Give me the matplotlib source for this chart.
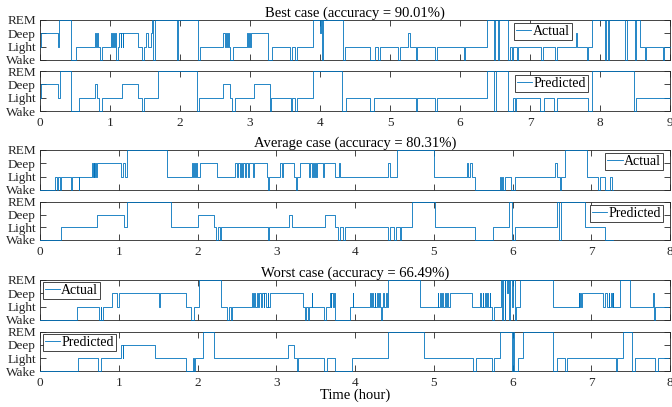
import matplotlib
matplotlib.use("Agg")
import matplotlib.pyplot as plt

plt.rcParams['font.family'] = 'serif'
plt.rcParams['font.serif'] = ['Liberation Serif', 'DejaVu Serif']
plt.rcParams['axes.linewidth'] = 0.6
plt.rcParams['axes.edgecolor'] = '#262626'

stage_names = ["Wake", "Light", "Deep", "REM"]
W, L, D, R = 0, 1, 2, 3

# ---- best case (hours, stage at that time) ----
best_act_t = [0.00, 0.01, 0.26, 0.27, 0.44, 0.52, 0.78, 0.80, 0.81, 0.83, 0.85, 0.88,
              1.01, 1.03, 1.04, 1.06, 1.07, 1.09, 1.11, 1.13, 1.15, 1.16, 1.18, 1.19,
              1.40, 1.45, 1.48, 1.52, 1.54, 1.59, 1.60, 1.62, 1.64, 1.95, 1.97, 2.25,
              2.28, 2.62, 2.64, 2.65, 2.67, 2.68, 2.70, 2.72, 2.76, 2.95, 2.97, 2.98,
              3.00, 3.02, 3.26, 3.31, 3.57, 3.60, 3.64, 3.67, 3.90, 4.00, 4.01, 4.03,
              4.04, 4.33, 4.36, 4.71, 4.78, 4.83, 4.86, 5.12, 5.14, 5.26, 5.28, 5.37,
              5.39, 5.64, 5.67, 6.05, 6.07, 6.39, 6.48, 6.50, 6.54, 6.55, 6.69, 6.72,
              6.74, 6.76, 6.81, 6.83, 7.15, 7.19, 7.36, 7.38, 7.65, 7.67, 7.81, 7.83,
              7.88, 8.07, 8.09, 8.11, 8.13, 8.36, 8.38, 8.50, 8.51, 8.57, 8.64, 8.66,
              8.90, 8.92]
best_act_s = [L, D, L, R, W, L, D, L, D, L, W, L,
              D, L, D, L, D, W, L, D, L, D, L, D,
              L, W, L, D, L, D, R, W, R, W, R, W,
              L, D, L, D, L, D, L, W, L, D, L, D,
              L, D, W, L, W, L, W, L, R, D, R, W,
              R, W, L, W, L, W, L, W, L, D, L, W,
              L, W, L, W, L, R, W, R, W, R, W, L,
              W, L, W, L, W, L, W, L, D, L, W, L,
              R, W, R, W, R, W, R, W, R, L, W, L,
              W, L]
best_pred_t = [0.00, 0.01, 0.26, 0.28, 0.44, 0.56, 0.79, 0.82, 0.84, 0.88, 1.17, 1.40,
               1.45, 1.48, 1.69, 2.24, 2.27, 2.62, 2.71, 2.74, 2.78, 3.05, 3.28, 3.30,
               3.58, 3.60, 3.64, 3.67, 3.90, 4.32, 4.37, 4.71, 4.77, 5.37, 5.39, 5.64,
               5.67, 6.39, 6.48, 6.51, 6.69, 6.76, 6.78, 6.80, 7.14, 7.20, 7.34, 7.38,
               7.83, 7.88, 8.48, 8.51]
best_pred_s = [L, D, L, R, W, L, D, L, W, L, D, L,
               W, L, R, W, L, D, L, W, L, D, W, L,
               W, L, W, L, R, W, L, W, L, W, L, W,
               L, R, W, R, W, L, W, L, W, L, W, L,
               W, R, W, L]

# ---- average case ----
avg_act_t = [0.00, 0.19, 0.21, 0.23, 0.26, 0.27, 0.39, 0.41, 0.49, 0.50, 0.66, 0.67,
             0.68, 0.69, 0.70, 0.71, 0.72, 1.03, 1.05, 1.08, 1.10, 1.61, 1.93, 1.94,
             1.96, 1.97, 1.98, 1.99, 2.03, 2.25, 2.48, 2.50, 2.52, 2.54, 2.55, 2.57,
             2.58, 2.60, 2.61, 2.64, 2.66, 2.70, 2.72, 2.88, 2.90, 2.91, 3.05, 3.07,
             3.08, 3.22, 3.25, 3.26, 3.30, 3.41, 3.43, 3.45, 3.47, 3.48, 3.49, 3.51,
             3.52, 3.59, 3.60, 3.75, 3.80, 3.81, 4.42, 4.45, 4.53, 5.00, 5.42, 5.44,
             5.46, 5.48, 5.53, 5.84, 5.85, 5.87, 5.88, 5.90, 5.98, 6.03, 6.54, 6.56,
             6.60, 6.62, 6.67, 6.95, 7.09, 7.11, 7.17, 7.24, 7.26]
avg_act_s = [W, L, W, L, W, L, W, L, W, L, D, L,
             D, L, D, L, D, L, D, L, R, L, D, L,
             D, L, D, L, D, L, D, L, D, L, D, L,
             D, L, D, L, D, L, D, L, W, L, D, L,
             D, L, W, L, D, L, D, L, D, L, D, L,
             D, L, D, L, D, L, D, L, R, L, D, L,
             D, L, W, L, W, L, W, L, W, L, D, L,
             W, L, R, L, W, L, W, L, W]
avg_pred_t = [0.00, 0.27, 0.73, 1.07, 1.10, 1.66, 2.00, 2.21, 2.24, 2.26, 2.29, 2.30,
              2.90, 2.91, 3.16, 3.20, 3.62, 3.75, 3.79, 3.81, 3.85, 3.87, 4.42, 4.44,
              4.50, 4.52, 4.57, 4.59, 4.72, 5.02, 5.53, 5.75, 5.95, 5.99, 6.03, 6.57,
              6.59, 6.61, 6.92, 7.17]
avg_pred_s = [W, L, D, L, R, L, D, L, W, L, W, L,
              W, L, D, L, D, L, W, L, W, L, W, L,
              W, L, W, L, R, L, W, L, R, W, L, R,
              W, R, L, W]

# ---- worst case ----
worst_act_t = [0.00, 0.47, 0.75, 0.77, 0.78, 0.80, 0.92, 0.98, 1.00, 1.51, 1.53, 1.86,
               1.92, 1.96, 2.02, 2.30, 2.38, 2.40, 2.42, 2.44, 2.69, 2.70, 2.72, 2.73,
               2.75, 2.77, 2.78, 2.80, 2.82, 2.84, 2.85, 2.87, 2.89, 2.90, 2.92, 3.34,
               3.36, 3.38, 3.40, 3.41, 3.45, 3.46, 3.60, 3.63, 3.68, 3.69, 3.70, 3.72,
               3.73, 3.74, 3.75, 3.94, 3.97, 3.98, 4.19, 4.20, 4.22, 4.23, 4.25, 4.26,
               4.28, 4.29, 4.31, 4.32, 4.33, 4.34, 4.36, 4.37, 4.39, 4.40, 4.42, 4.83,
               5.05, 5.06, 5.08, 5.09, 5.11, 5.12, 5.14, 5.15, 5.17, 5.18, 5.21, 5.49,
               5.59, 5.60, 5.62, 5.63, 5.65, 5.66, 5.68, 5.69, 5.71, 5.72, 5.74, 5.76,
               5.85, 5.87, 5.88, 5.90, 5.91, 5.93, 5.94, 5.95, 5.97, 5.99, 6.01, 6.03,
               6.04, 6.10, 6.51, 6.84, 6.85, 6.86, 6.87, 6.88, 7.15, 7.17, 7.20, 7.22,
               7.23, 7.25, 7.26, 7.27, 7.28, 7.37, 7.49, 7.79, 7.80, 7.81]
worst_act_s = [W, L, W, L, W, L, D, L, D, L, D, L,
               W, L, R, L, W, L, W, L, D, L, D, L,
               D, L, D, L, D, L, D, L, D, L, D, L,
               W, L, W, L, D, L, W, L, D, L, D, L,
               D, L, W, L, D, L, D, L, D, L, D, L,
               D, L, D, L, W, L, D, L, D, L, R, L,
               D, L, D, L, D, L, D, L, D, L, D, L,
               D, L, D, L, D, L, D, L, D, L, W, L,
               R, W, R, W, R, D, R, W, R, L, R, W,
               L, R, L, D, L, D, L, D, L, D, L, D,
               L, D, L, D, L, R, L, D, W, L]
worst_pred_t = [0.00, 0.48, 0.74, 0.78, 1.03, 1.05, 1.06, 1.46, 1.86, 1.94, 1.95, 1.97,
                2.07, 2.21, 3.15, 3.22, 3.26, 3.27, 3.60, 3.64, 3.75, 3.96, 4.42, 4.88,
                5.50, 5.54, 5.74, 5.76, 5.84, 5.99, 6.01, 6.02, 6.07, 6.13, 6.51, 6.56,
                6.67, 6.69, 7.31, 7.33, 7.40, 7.52, 7.55, 7.81, 7.85]
worst_pred_s = [W, L, W, L, D, L, D, L, W, L, W, L,
                R, L, D, L, W, L, W, L, W, L, R, L,
                W, L, W, L, R, W, R, W, L, R, W, L,
                W, L, W, L, R, W, L, W, L]

cases = [
    ("Best case (accuracy = 90.01%)", 9, 9.0,
     best_act_t, best_act_s, best_pred_t, best_pred_s,
     dict(loc='upper left', bbox_to_anchor=(0.752, 0.93)),
     dict(loc='upper left', bbox_to_anchor=(0.754, 0.90))),
    ("Average case (accuracy = 80.31%)", 8, 7.27,
     avg_act_t, avg_act_s, avg_pred_t, avg_pred_s,
     dict(loc='upper right', bbox_to_anchor=(0.989, 0.93)),
     dict(loc='upper right', bbox_to_anchor=(0.989, 0.92))),
    ("Worst case (accuracy = 66.49%)", 8, 7.98,
     worst_act_t, worst_act_s, worst_pred_t, worst_pred_s,
     dict(loc='upper left', bbox_to_anchor=(0.004, 0.95)),
     dict(loc='upper left', bbox_to_anchor=(0.004, 0.95))),
]

# axes boxes in pixels (top, bottom) of the 672x407 figure
rows = [(20, 60), (71, 111), (150, 190), (202, 240), (280, 320), (332, 371)]
FW, FH = 672, 407
left, right = 40, 670
blue = '#0072BD'

fig = plt.figure(figsize=(FW / 100, FH / 100), dpi=100)


def style(ax, xmax, labels):
    ax.set_ylim(0, 3)
    ax.set_xlim(0, xmax)
    ax.set_yticks(range(4))
    ax.set_yticklabels(stage_names)
    ax.set_xticks(range(xmax + 1))
    ax.tick_params(direction='in', length=4, width=0.6, top=True, right=True,
                   labelsize=9.5, pad=3, colors='#262626')
    ax.tick_params(axis='x', pad=4)
    if not labels:
        ax.set_xticklabels([])


def draw(ax, t, s, end, label, legkw):
    ax.plot(t + [end], s + [s[-1]], drawstyle='steps-post', color=blue, lw=0.6,
            label=label, clip_on=False, zorder=3)
    leg = ax.legend(fontsize=10, handlelength=1.1, handletextpad=0.1, borderpad=0.15,
                    borderaxespad=0, fancybox=False, framealpha=1, **legkw)
    leg.get_frame().set_edgecolor('#262626')
    leg.get_frame().set_linewidth(0.6)


for i, (title, xmax, end, at, a_s, pt, p_s, lk1, lk2) in enumerate(cases):
    top1, bot1 = rows[2 * i]
    top2, bot2 = rows[2 * i + 1]
    ax1 = fig.add_axes([left / FW, 1 - bot1 / FH, (right - left) / FW, (bot1 - top1) / FH])
    ax2 = fig.add_axes([left / FW, 1 - bot2 / FH, (right - left) / FW, (bot2 - top2) / FH])
    draw(ax1, at, a_s, end, "Actual", lk1)
    draw(ax2, pt, p_s, end, "Predicted", lk2)
    style(ax1, xmax, False)
    style(ax2, xmax, True)
    ax1.set_title(title, fontsize=10.5, pad=2)
    if i == 2:
        ax2.set_xlabel("Time (hour)", fontsize=10.5, labelpad=0)

fig.savefig("out.png", dpi=100)
